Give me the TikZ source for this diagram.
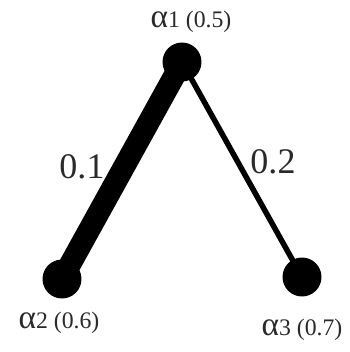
\documentclass[tikz,border=0pt]{standalone}
\usepackage{fontspec}
\setmainfont{Liberation Serif}
\usepackage{tikz}
\usetikzlibrary{positioning}
\definecolor{InkGray}{HTML}{2A2A2A}

\begin{document}
\begin{tikzpicture}[x=0.02cm, y=-0.02cm,
    vertex/.style={circle, fill=black, inner sep=0pt, minimum size=0.78cm},
    heavy/.style={line width=0.44cm},
    light/.style={line width=0.11cm},
    wlabel/.style={font=\fontsize{20.5}{22}\selectfont, InkGray},
    vlabel/.style={InkGray, inner sep=0pt}
]
\useasboundingbox (0,0) rectangle (349,352);

% Vertices
\node[vertex] (a1) at (182, 62) {};
\node[vertex] (a2) at (62, 279) {};
\node[vertex] (a3) at (302, 277) {};

% Edges
\draw[heavy] (a1.center) -- (a2.center);
\draw[light] (a1.center) -- (a3.center);

% Weights
\node[wlabel] (w12) at (82, 167) {0.1};
\node[wlabel] (w13) at (273, 162) {0.2};

% Vertex labels
\node[vlabel] (l1) at (191, 22) {{\fontsize{19}{19}\selectfont α}{\fontsize{13.5}{14}\selectfont 1 (0.5)}};
\node[vlabel] (l2) at (59, 323) {{\fontsize{19}{19}\selectfont α}{\fontsize{13.5}{14}\selectfont 2 (0.6)}};
\node[vlabel] (l3) at (302, 330) {{\fontsize{19}{19}\selectfont α}{\fontsize{13.5}{14}\selectfont 3 (0.7)}};
\end{tikzpicture}
\end{document}
